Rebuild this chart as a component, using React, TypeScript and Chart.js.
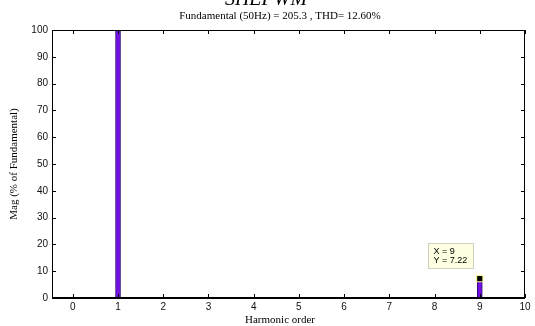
import React, { useEffect, useRef } from 'react';
import { Chart, registerables } from 'chart.js';

Chart.register(...registerables);

const harmonicOrders = [0, 1, 2, 3, 4, 5, 6, 7, 8, 9, 10];
const magnitudes = [0.2, 100, 0.1, 0.1, 0.1, 0.1, 0.1, 0.1, 0.1, 7.22, 0.1];
const xTickValues = [0, 1, 2, 3, 4, 5, 6, 7, 8, 9, 10];
const yTickValues = [0, 10, 20, 30, 40, 50, 60, 70, 80, 90, 100];
const titleText = 'SHEPWM';
const subtitleText = 'Fundamental (50Hz) = 205.3 , THD= 12.60%';
const xTitleText = 'Harmonic order';
const yTitleText = 'Mag (% of Fundamental)';
const tipX = [9];
const tipY = [7.22];

const SERIF = '"Liberation Serif", "Times New Roman", serif';
const SANS = '"Liberation Sans", Arial, sans-serif';

const framePlugin = {
  id: 'matlabFrame',
  afterDraw(chart: any) {
    const { ctx, chartArea, scales } = chart;
    const { left, right, top, bottom } = chartArea;
    const xs = scales.x;
    const ys = scales.y;
    ctx.save();
    ctx.strokeStyle = '#000';
    ctx.lineWidth = 1;
    ctx.strokeRect(left + 0.5, top + 0.5, right - left - 1, bottom - top);
    ctx.lineWidth = 2;
    ctx.beginPath();
    ctx.moveTo(left, bottom);
    ctx.lineTo(right, bottom);
    ctx.stroke();
    ctx.lineWidth = 1;
    ctx.beginPath();
    xTickValues.forEach((v) => {
      const px = Math.round(xs.getPixelForValue(v)) + 0.5;
      ctx.moveTo(px, bottom);
      ctx.lineTo(px, bottom - 4);
      ctx.moveTo(px, top);
      ctx.lineTo(px, top + 4);
    });
    yTickValues.forEach((v) => {
      const py = Math.round(ys.getPixelForValue(v)) + 0.5;
      ctx.moveTo(left, py);
      ctx.lineTo(left + 4, py);
      ctx.moveTo(right, py);
      ctx.lineTo(right - 4, py);
    });
    ctx.stroke();

    ctx.fillStyle = '#000';
    ctx.textAlign = 'center';
    ctx.textBaseline = 'alphabetic';
    ctx.font = 'italic 20px ' + SERIF;
    ctx.fillText(titleText, 266, 5);
    ctx.font = '11px ' + SERIF;
    ctx.fillText(subtitleText, 280, 19);
    ctx.fillText(xTitleText, 280, 323);
    ctx.save();
    ctx.translate(17, (top + bottom) / 2);
    ctx.rotate(-Math.PI / 2);
    ctx.fillText(yTitleText, 0, 0);
    ctx.restore();

    const mx = xs.getPixelForValue(tipX[0]);
    const my = ys.getPixelForValue(tipY[0]);
    const bx = Math.round(mx - 52) + 0.5;
    const by = Math.round(my - 36) + 0.5;
    const bw = 45;
    const bh = 25;
    ctx.fillStyle = '#ffffe1';
    ctx.fillRect(bx, by, bw, bh);
    ctx.strokeStyle = '#d0d0c0';
    ctx.lineWidth = 1;
    ctx.strokeRect(bx, by, bw, bh);
    ctx.fillStyle = '#000';
    ctx.textAlign = 'left';
    ctx.textBaseline = 'middle';
    ctx.font = '9px ' + SANS;
    ctx.fillText('X = ' + tipX[0], bx + 5, by + 8);
    ctx.fillText('Y = ' + tipY[0], bx + 5, by + 17);
    ctx.restore();
  },
};

export default function App() {
  const ref = useRef<HTMLCanvasElement>(null);
  useEffect(() => {
    if (!ref.current) return;
    const chart = new Chart(ref.current, {
      type: 'bar',
      data: {
        datasets: [
          {
            type: 'scatter' as any,
            data: tipX.map((x, i) => ({ x, y: tipY[i] })),
            pointStyle: 'rect',
            pointRadius: 4.4,
            backgroundColor: '#000',
            borderColor: '#ffff80',
            borderWidth: 1,
            order: 0,
          } as any,
          {
            type: 'bar',
            data: harmonicOrders.map((x, i) => ({ x, y: magnitudes[i] })),
            backgroundColor: '#7410e6',
            borderColor: '#2a0a70',
            borderWidth: 1,
            barThickness: 5,
            order: 1,
          } as any,
        ],
      },
      options: {
        responsive: false,
        animation: false,
        devicePixelRatio: 1,
        layout: { padding: { top: 30, right: 10, left: 0, bottom: 0 } },
        plugins: {
          legend: { display: false },
          tooltip: { enabled: false },
          title: { display: false },
        },
        scales: {
          x: {
            type: 'linear',
            offset: false,
            min: -0.46,
            max: 10,
            grid: { display: false, drawTicks: false, offset: false },
            border: { display: false },
            ticks: {
              stepSize: 1,
              includeBounds: false,
              padding: 3,
              color: '#111',
              font: { family: SANS, size: 10 },
            },
            afterFit(scale: any) {
              scale.height = 28;
            },
          },
          y: {
            type: 'linear',
            min: 0,
            max: 100,
            grid: { display: false, drawTicks: false },
            border: { display: false },
            ticks: {
              stepSize: 10,
              padding: 4,
              color: '#111',
              font: { family: SANS, size: 10 },
            },
            afterFit(scale: any) {
              scale.width = 52;
            },
          },
        },
      } as any,
      plugins: [framePlugin],
    });
    return () => chart.destroy();
  }, []);
  return (
    <div style={{ position: 'fixed', left: 0, top: 0, width: 535, height: 326, background: '#fff' }}>
      <canvas ref={ref} width={535} height={326} style={{ width: 535, height: 326 }} />
    </div>
  );
}
